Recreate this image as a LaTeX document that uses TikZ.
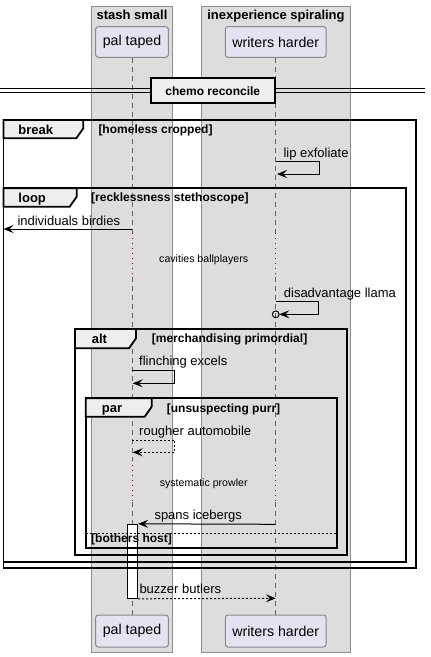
\documentclass[tikz,border=0pt]{standalone}
\usepackage{fontspec}
\setmainfont{Liberation Sans}
\usetikzlibrary{arrows.meta}
\definecolor{grpfill}{HTML}{DDDDDD}
\definecolor{grpline}{HTML}{8C8C8C}
\definecolor{partfill}{HTML}{E2E2F0}
\definecolor{partline}{HTML}{8A8A8A}
\definecolor{tabfill}{HTML}{EEEEEE}
\definecolor{delayred}{HTML}{A80036}
\definecolor{lifegray}{HTML}{666666}
\newcommand\fpart{\fontsize{14.2}{16}\selectfont}
\newcommand\fgrp{\fontsize{13}{15}\selectfont\bfseries}
\newcommand\fmsg{\fontsize{13}{15}\selectfont}
\newcommand\fkw{\fontsize{13}{15}\selectfont\bfseries}
\newcommand\fcond{\fontsize{12}{14}\selectfont\bfseries}
\newcommand\fdelay{\fontsize{10.6}{12}\selectfont}
\newcommand\fdiv{\fontsize{12}{14}\selectfont\bfseries}
\begin{document}
\begin{tikzpicture}[x=1pt,y=-1pt,
  grp/.style={draw=grpline,fill=grpfill,line width=0.9pt},
  part/.style={draw=partline,fill=partfill,rounded corners=2.5pt,line width=1pt,inner sep=0pt,font=\fpart},
  life/.style={draw=lifegray,line width=0.9pt,dash pattern=on 5pt off 4pt},
  delay/.style={draw=delayred,line width=1pt,dash pattern=on 1pt off 4pt},
  frm/.style={draw=black,line width=1.8pt},
  tabshape/.style={draw=black,fill=tabfill,line width=1.8pt},
  lbl/.style={anchor=base west,inner sep=0pt},
  msg/.style={draw=black,line width=1pt,-{Stealth[length=10pt,width=8pt,inset=4pt]}},
  rmsg/.style={msg,dash pattern=on 2pt off 2pt},
  sep/.style={draw=black,line width=1pt,dash pattern=on 2pt off 2pt}]
\useasboundingbox (0,0) rectangle (431,657);
\fill[white] (0,0) rectangle (431,657);
% groups
\draw[grp] (91.7,6) rectangle (172.3,652);
\draw[grp] (201.3,6) rectangle (350.7,652);
\node[anchor=base,inner sep=0pt,font=\fgrp] (g1) at (132,19) {stash small};
\node[anchor=base,inner sep=0pt,font=\fgrp] (g2) at (276,19) {inexperience spiraling};
% participants
\node[part,minimum width=72.6pt,minimum height=30.6pt] (p1t) at (132,42) {pal taped};
\node[part,minimum width=100.7pt,minimum height=30.6pt] (p2t) at (275.7,42) {writers harder};
\node[part,minimum width=72.6pt,minimum height=32pt] (p1b) at (132,631) {pal taped};
\node[part,minimum width=100.7pt,minimum height=32pt] (p2b) at (275.7,631) {writers harder};
% lifeline coordinates
\coordinate (a1) at (p1t.south |- 0,233);
\coordinate (b1) at (p1t.south |- 0,277);
\coordinate (c1) at (p1t.south |- 0,460);
\coordinate (d1) at (p1t.south |- 0,502);
\coordinate (a2) at (p2t.south |- 0,233);
\coordinate (b2) at (p2t.south |- 0,277);
\coordinate (c2) at (p2t.south |- 0,460);
\coordinate (d2) at (p2t.south |- 0,502);
\draw[life] (p1t.south) -- (a1);
\draw[delay] (a1) -- (b1);
\draw[life] (b1) -- (c1);
\draw[delay] (c1) -- (d1);
\draw[life] (d1) -- (p1b.north);
\draw[life] (p2t.south) -- (a2);
\draw[delay] (a2) -- (b2);
\draw[life] (b2) -- (c2);
\draw[delay] (c2) -- (d2);
\draw[life] (d2) -- (p2b.north);
% divider
\coordinate (dl1) at (0,88.7);
\coordinate (dr1) at (425,88.7);
\coordinate (dl2) at (0,92.7);
\coordinate (dr2) at (425,92.7);
\draw[line width=1.1pt] (dl1) -- (dr1);
\draw[line width=1.1pt] (dl2) -- (dr2);
\node[draw=black,fill=tabfill,line width=1.8pt,minimum width=124.3pt,minimum height=25pt,inner sep=0pt,font=\fdiv] (div) at (212.8,90.8) {chemo reconcile};
% activation
\node[draw=black,fill=white,line width=1pt,minimum width=10pt,minimum height=74pt,inner sep=0pt] (act) at (132.7,561.3) {};
% frames
\draw[frm] (3.5,120) rectangle (416,568.3);
\draw[tabshape] (3.5,120) -- (83.3,120) -- (83.3,128.3) -- (76.3,138.3) -- (3.5,138.3) -- cycle;
\node[lbl,font=\fkw] (kw1) at (18.3,134) {break};
\node[lbl,font=\fcond] (cd1) at (98.3,133.5) {[homeless cropped]};
\draw[frm] (3.5,188.3) rectangle (406,561.7);
\draw[tabshape] (3.5,188.3) -- (76.7,188.3) -- (76.7,196.7) -- (69.7,206.7) -- (3.5,206.7) -- cycle;
\node[lbl,font=\fkw] (kw2) at (18.3,202) {loop};
\node[lbl,font=\fcond] (cd2) at (91,201.5) {[recklessness stethoscope]};
\draw[frm] (75,329) rectangle (346.7,555);
\draw[tabshape] (75,329) -- (136,329) -- (136,338.3) -- (129,348.3) -- (75,348.3) -- cycle;
\node[lbl,font=\fkw] (kw3) at (91.7,343.3) {alt};
\node[lbl,font=\fcond] (cd3) at (151.7,342.8) {[merchandising primordial]};
\draw[frm] (85.7,398.3) rectangle (336.7,548.3);
\draw[tabshape] (85.7,398.3) -- (151.7,398.3) -- (151.7,406.7) -- (144.7,416.7) -- (85.7,416.7) -- cycle;
\node[lbl,font=\fkw] (kw4) at (101.7,412.7) {par};
\node[lbl,font=\fcond] (cd4) at (166.7,412.2) {[unsuspecting purr]};
\coordinate (sepl) at (85.7,533.3);
\coordinate (sepr) at (336.7,533.3);
\draw[sep] (sepl) -- (sepr);
\node[lbl,font=\fcond] (cd5) at (91,542.3) {[bothers host]};
% messages
\coordinate (m1s) at (p2t.south |- 0,161.7);
\coordinate (m1e) at (277,174);
\draw[msg] (m1s) -- (319,161.7) -- (319,174) -- (m1e);
\node[lbl,font=\fmsg] (t1) at (283.3,157) {lip exfoliate};
\coordinate (m2s) at (p1t.south |- 0,229);
\coordinate (m2e) at (3.5,229);
\draw[msg] (m2s) -- (m2e);
\node[lbl,font=\fmsg] (t2) at (17.3,225) {individuals birdies};
\node[anchor=base,inner sep=0pt,font=\fdelay] (t3) at (203.7,262) {cavities ballplayers};
\coordinate (m4s) at (p2t.south |- 0,301.7);
\coordinate (circ) at (p2t.south |- 0,314.3);
\coordinate (m4e) at (279.3,314.3);
\draw[msg] (m4s) -- (318.7,301.7) -- (318.7,314.3) -- (m4e);
\draw[black,line width=1pt] (circ) circle[radius=3.4pt];
\node[lbl,font=\fmsg] (t4) at (283.7,297) {disadvantage llama};
\coordinate (m5s) at (p1t.south |- 0,370.3);
\coordinate (m5e) at (132.7,383.3);
\draw[msg] (m5s) -- (174.7,370.3) -- (174.7,383.3) -- (m5e);
\node[lbl,font=\fmsg] (t5) at (139,365.5) {flinching excels};
\coordinate (m6s) at (p1t.south |- 0,440);
\coordinate (m6e) at (132.7,452.3);
\draw[rmsg] (m6s) -- (174.7,440) -- (174.7,452.3) -- (m6e);
\node[lbl,font=\fmsg] (t6) at (139,435) {rougher automobile};
\node[anchor=base,inner sep=0pt,font=\fdelay] (t7) at (203.7,486) {systematic prowler};
\coordinate (m8s) at (p2t.south |- 0,524.3);
\draw[msg] (m8s) -- (act.north east);
\node[lbl,font=\fmsg] (t8) at (154.3,519.5) {spans icebergs};
\coordinate (m9e) at (p2t.south |- 0,598.3);
\draw[rmsg] (act.south east) -- (m9e);
\node[lbl,font=\fmsg] (t9) at (139.3,593.5) {buzzer butlers};
\end{tikzpicture}
\end{document}
